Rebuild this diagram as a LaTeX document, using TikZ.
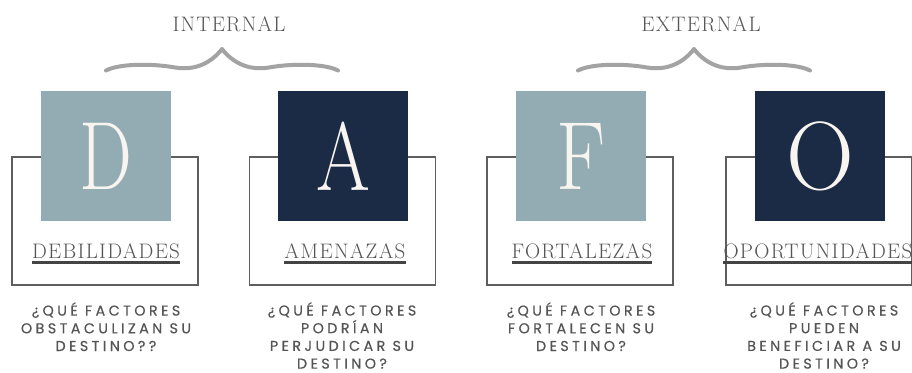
\documentclass[tikz,border=0pt]{standalone}
\usepackage{fontspec}
\newfontfamily\qfont[LetterSpace=24,FakeBold=0.5]{Poppins}
\newfontfamily\lblfont[LetterSpace=6]{Latin Modern Roman}
\definecolor{lightsq}{HTML}{93ACB3}
\definecolor{darksq}{HTML}{1C2B45}
\definecolor{cream}{HTML}{F8F5F0}
\definecolor{txtgray}{HTML}{555555}
\definecolor{bracegray}{HTML}{A3A3A3}
\definecolor{framegray}{HTML}{5E5E5E}
\newcommand{\bigltr}[2]{\scalebox{#1}[1]{#2}}
\tikzset{
  sq/.style={minimum size=130pt, inner sep=0pt, draw=none, text=cream,
    font=\fontsize{97}{97}\selectfont},
  frame/.style={draw=framegray, line width=1.2pt, minimum width=186pt, minimum height=128pt, inner sep=0pt},
  lbl/.style={anchor=base, inner sep=0pt, text=txtgray, font=\lblfont\fontsize{21}{21}\selectfont},
  hdr/.style={anchor=base, inner sep=0pt, text=txtgray, font=\lblfont\fontsize{21}{21}\selectfont},
  ul/.style={draw=txtgray!80!black, line width=2.4pt},
  qtxt/.style={anchor=base, inner sep=0pt, align=center, text=txtgray, font=\qfont\fontsize{14.3}{17.7}\selectfont},
  brace/.style={draw=bracegray, line width=4pt, line cap=round, line join=round}
}
\begin{document}
\begin{tikzpicture}[x=1pt,y=-1pt]
\useasboundingbox (0,0) rectangle (912,372);
\clip (0,0) rectangle (912,372);
% headers
\node[hdr] (hin) at (229,31) {INTERNAL};
\node[hdr] (hex) at (701,31) {EXTERNAL};
% braces
\draw[brace] (106,70.5) .. controls (118,64) and (150,63) .. (175,67.5) .. controls (196,71) and (212,62) .. (222,49)
  .. controls (232,62) and (248,71) .. (269,67.5) .. controls (294,63) and (326,64) .. (338,70.5);
\draw[brace] (578,70.5) .. controls (590,64) and (622,63) .. (647,67.5) .. controls (668,71) and (684,62) .. (694,49)
  .. controls (704,62) and (720,71) .. (741,67.5) .. controls (766,63) and (798,64) .. (810,70.5);
% frames
\node[frame] (fD) at (105,221) {};
\node[frame] (fA) at (342.5,221) {};
\node[frame] (fF) at (580,221) {};
\node[frame] (fO) at (819,221) {};
% squares
\node[sq, fill=lightsq] (sD) at (106,156) {\bigltr{0.77}{D}};
\node[sq, fill=darksq] (sA) at (343,156) {\bigltr{0.8}{A}};
\node[sq, fill=lightsq] (sF) at (581,156) {\bigltr{0.84}{F}};
\node[sq, fill=darksq] (sO) at (820,156) {\bigltr{0.97}{O}};
% labels
\node[lbl] (lD) at (106,258) {DEBILIDADES};
\node[lbl] (lA) at (345,258) {AMENAZAS};
\node[lbl] (lF) at (582,258) {FORTALEZAS};
\node[lbl] (lO) at (818,258) {OPORTUNIDADES};
\foreach \n in {lD,lA,lF,lO}{
  \draw[ul] ([yshift=-4.6pt]\n.base west) -- ([yshift=-4.6pt]\n.base east);
}
% questions (base anchor = baseline of last line)
\node[qtxt] (qD) at (106,351) {¿QUÉ FACTORES\\OBSTACULIZAN SU\\DESTINO??};
\node[qtxt] (qA) at (342,368.6) {¿QUÉ FACTORES\\PODRÍAN\\PERJUDICAR SU\\DESTINO?};
\node[qtxt] (qF) at (581,351) {¿QUÉ FACTORES\\FORTALECEN SU\\DESTINO?};
\node[qtxt] (qO) at (824,368.6) {¿QUÉ FACTORES\\PUEDEN\\BENEFICIAR A SU\\DESTINO?};
\end{tikzpicture}
\end{document}
